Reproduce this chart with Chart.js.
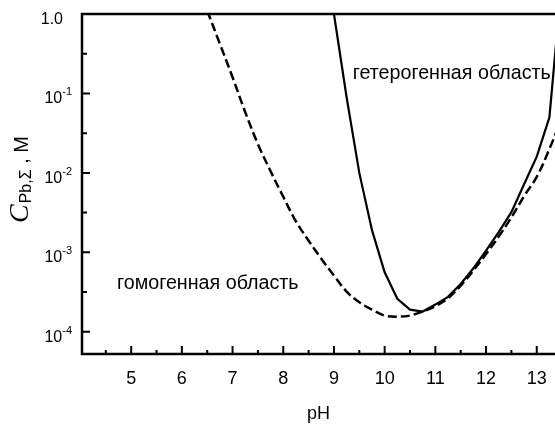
<!DOCTYPE html>
<html>
<head>
<meta charset="utf-8">
<script src="https://cdn.jsdelivr.net/npm/chart.js@4"></script>
<style>
  body { margin: 0; background: #fff; }
</style>
</head>
<body>
<canvas id="chart" width="555" height="425"></canvas>
<script>
// pH grid of the curves
const phSolid = [9.0, 9.25, 9.5, 9.75, 10.0, 10.25, 10.5, 10.75, 11.0, 11.25, 11.5, 11.75, 12.0, 12.25, 12.5, 12.75, 13.0, 13.25, 13.5];
// boundary of the heterogeneous region, C in M
const cSolid = [1.0, 8.9e-2, 1.0e-2, 1.9e-3, 5.6e-4, 2.6e-4, 1.9e-4, 1.8e-4, 2.2e-4, 2.75e-4, 4.0e-4, 6.3e-4, 1.05e-3, 1.8e-3, 3.2e-3, 7.2e-3, 1.6e-2, 5.0e-2, 3.0];

const phDashed = [6.5, 6.75, 7.0, 7.25, 7.5, 7.75, 8.0, 8.25, 8.5, 8.75, 9.0, 9.25, 9.5, 9.75, 10.0, 10.25, 10.5, 10.75, 11.0, 11.25, 11.5, 11.75, 12.0, 12.25, 12.5, 12.75, 13.0, 13.25, 13.5];
const cDashed = [1.1, 0.42, 0.16, 5.8e-2, 2.3e-2, 1.05e-2, 5.0e-3, 2.45e-3, 1.4e-3, 8.3e-4, 5.1e-4, 3.2e-4, 2.35e-4, 1.9e-4, 1.6e-4, 1.55e-4, 1.6e-4, 1.8e-4, 2.1e-4, 2.65e-4, 3.8e-4, 5.9e-4, 9.5e-4, 1.58e-3, 2.75e-3, 5.1e-3, 8.9e-3, 2.0e-2, 5.0e-2];

const xTicks = [5, 6, 7, 8, 9, 10, 11, 12, 13];
const xMinor = [4.5, 5.5, 6.5, 7.5, 8.5, 9.5, 10.5, 11.5, 12.5, 13.5];
const yDecades = [0, -1, -2, -3, -4];
const yMinor = [-0.5, -1.5, -2.5, -3.5];

const labelHetero = 'гетерогенная область';
const labelHomo = 'гомогенная область';

const SANS = '"Liberation Sans", Arial, sans-serif';
const SERIF = '"Liberation Serif", "Times New Roman", serif';

function toPoints(xs, ys) {
  return xs.map((x, i) => ({ x: x, y: ys[i] }));
}

// frame, inward ticks, superscript labels and texts
const framePlugin = {
  id: 'frame',
  afterDraw(chart) {
    const ctx = chart.ctx;
    const a = chart.chartArea;
    const xs = chart.scales.x;
    const ys = chart.scales.y;
    ctx.save();
    ctx.strokeStyle = '#000';
    ctx.fillStyle = '#000';
    ctx.lineWidth = 2.5;
    ctx.beginPath();
    ctx.moveTo(chart.width, a.top);
    ctx.lineTo(a.left, a.top);
    ctx.lineTo(a.left, a.bottom);
    ctx.lineTo(chart.width, a.bottom);
    ctx.stroke();

    ctx.lineWidth = 2;
    ctx.beginPath();
    yDecades.forEach(e => {
      const y = ys.getPixelForValue(Math.pow(10, e));
      ctx.moveTo(a.left, y); ctx.lineTo(a.left + 8, y);
    });
    yMinor.forEach(e => {
      const y = ys.getPixelForValue(Math.pow(10, e));
      ctx.moveTo(a.left, y); ctx.lineTo(a.left + 5, y);
    });
    xTicks.forEach(v => {
      const x = xs.getPixelForValue(v);
      ctx.moveTo(x, a.bottom); ctx.lineTo(x, a.bottom - 8);
    });
    xMinor.forEach(v => {
      const x = xs.getPixelForValue(v);
      ctx.moveTo(x, a.bottom); ctx.lineTo(x, a.bottom - 4);
    });
    ctx.stroke();

    // y tick labels
    ctx.textAlign = 'right';
    ctx.textBaseline = 'alphabetic';
    yDecades.forEach(e => {
      const y = ys.getPixelForValue(Math.pow(10, e));
      if (e === 0) {
        ctx.font = '16px ' + SANS;
        ctx.fillText('1.0', 63, y + 10);
      } else {
        const sup = '-' + Math.abs(e);
        ctx.font = '11px ' + SANS;
        const w = ctx.measureText(sup).width;
        ctx.fillText(sup, 72, y + 2);
        ctx.font = '16px ' + SANS;
        ctx.fillText('10', 72 - w, y + 10);
      }
    });

    // y title, rotated
    ctx.save();
    ctx.translate(28, 223);
    ctx.rotate(-Math.PI / 2);
    ctx.textAlign = 'left';
    let px = 0;
    ctx.font = 'italic 28px ' + SERIF;
    ctx.fillText('C', px, 0);
    px += ctx.measureText('C').width + 1;
    ctx.font = '16px ' + SANS;
    ctx.fillText('Pb,Σ', px, 3);
    px += ctx.measureText('Pb,Σ').width;
    ctx.font = '20px ' + SANS;
    ctx.fillText(' , M', px, 0);
    ctx.restore();

    // region labels
    ctx.textAlign = 'left';
    ctx.font = '19.7px ' + SANS;
    ctx.fillText(labelHetero, xs.getPixelForValue(9.37), ys.getPixelForValue(0.1) - 14);
    ctx.fillText(labelHomo, xs.getPixelForValue(4.72), ys.getPixelForValue(1e-3) + 37);
    ctx.restore();
  }
};

new Chart(document.getElementById('chart'), {
  type: 'line',
  data: {
    datasets: [{
      label: 'heterogeneous',
      data: toPoints(phSolid, cSolid),
      borderColor: '#000',
      borderWidth: 2.2,
      pointRadius: 0,
      tension: 0,
      fill: false
    }, {
      label: 'homogeneous',
      data: toPoints(phDashed, cDashed),
      borderColor: '#000',
      borderWidth: 2.5,
      borderDash: [9, 4],
      pointRadius: 0,
      tension: 0.35,
      fill: false
    }]
  },
  options: {
    responsive: false,
    animation: false,
    layout: { padding: { top: 14, right: 0, left: 0, bottom: 0 } },
    plugins: {
      legend: { display: false },
      tooltip: { enabled: false }
    },
    scales: {
      x: {
        type: 'linear',
        min: 4.03,
        max: 13.36,
        grid: { display: false, drawTicks: false },
        border: { display: false },
        afterBuildTicks: s => { s.ticks = xTicks.map(v => ({ value: v })); },
        ticks: {
          color: '#000',
          font: { family: SANS, size: 18 },
          padding: 14,
          maxRotation: 0,
          callback: v => String(v)
        },
        title: {
          display: true,
          text: 'pH',
          color: '#000',
          font: { family: SANS, size: 18 },
          padding: { top: 8, bottom: 0 }
        },
        afterFit: s => { s.height = 71; s.paddingLeft = 0; s.paddingRight = 0; }
      },
      y: {
        type: 'logarithmic',
        min: 5.25e-5,
        max: 1,
        grid: { display: false, drawTicks: false },
        border: { display: false },
        ticks: { display: false },
        afterFit: s => { s.width = 82; s.paddingTop = 0; s.paddingBottom = 0; }
      }
    }
  },
  plugins: [framePlugin]
});
</script>
</body>
</html>
